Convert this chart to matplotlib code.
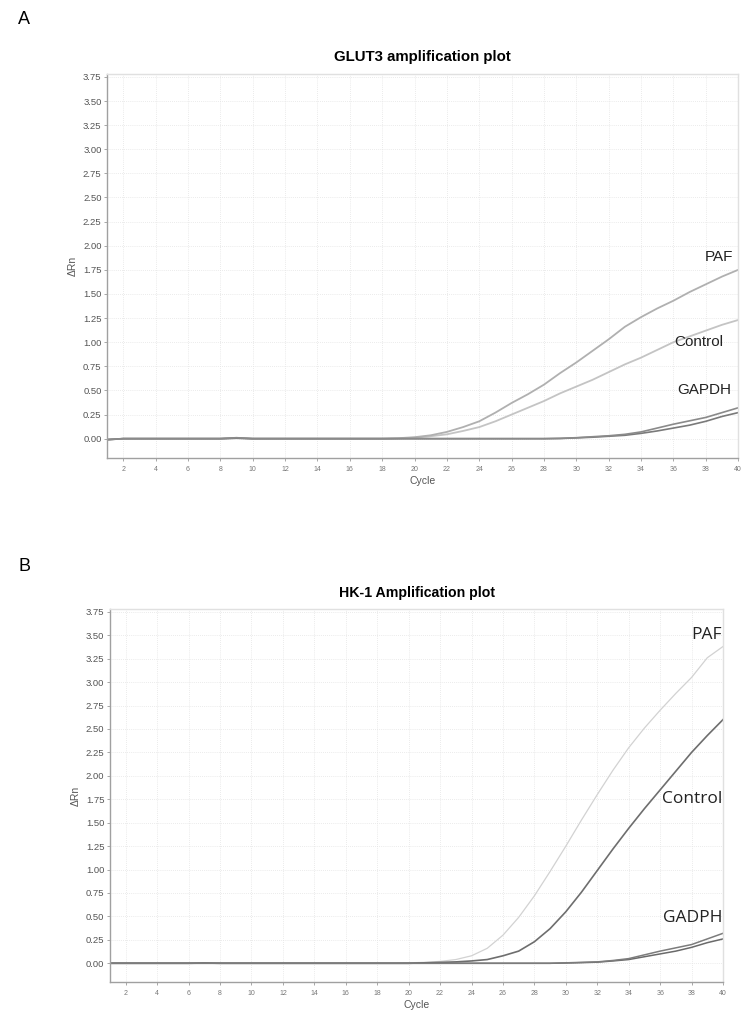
import matplotlib
matplotlib.use("Agg")
import matplotlib.pyplot as plt
import numpy as np

cycles = list(range(1, 41))

# Panel A (GLUT3)
glut3_paf = [-0.01, 0, 0, 0, 0, 0, 0, 0, 0.005, 0, 0, 0, 0, 0, 0, 0, 0, 0, 0.005, 0.015,
             0.035, 0.07, 0.12, 0.18, 0.27, 0.37, 0.46, 0.56, 0.68, 0.79,
             0.91, 1.03, 1.16, 1.26, 1.35, 1.43, 1.52, 1.60, 1.68, 1.75]
glut3_control = [-0.01, 0, 0, 0, 0, 0, 0, 0, 0.008, 0, 0, 0, 0, 0, 0, 0, 0, 0, 0.003, 0.01,
                 0.025, 0.045, 0.08, 0.12, 0.18, 0.25, 0.32, 0.39, 0.47, 0.54,
                 0.61, 0.69, 0.77, 0.84, 0.92, 1.00, 1.06, 1.12, 1.18, 1.23]
glut3_gapdh1 = [-0.01, 0, 0, 0, 0, 0, 0, 0, 0.01, 0, 0, 0, 0, 0, 0, 0, 0, 0, 0, 0,
                0, 0, 0, 0, 0, 0, 0, 0, 0.003, 0.01,
                0.02, 0.03, 0.045, 0.07, 0.11, 0.15, 0.185, 0.22, 0.27, 0.32]
glut3_gapdh2 = [-0.01, 0, 0, 0, 0, 0, 0, 0, 0.005, 0, 0, 0, 0, 0, 0, 0, 0, 0, 0, 0,
                0, 0, 0, 0, 0, 0, 0, 0, 0.002, 0.008,
                0.015, 0.025, 0.035, 0.055, 0.08, 0.11, 0.14, 0.18, 0.23, 0.27]

# Panel B (HK-1)
hk1_paf = [0, 0, 0, 0, 0, 0, 0.003, 0, 0, 0, 0, 0, 0, 0, 0, 0, 0, 0, 0, 0.005,
           0.01, 0.02, 0.04, 0.08, 0.16, 0.30, 0.49, 0.72, 0.98, 1.25,
           1.53, 1.80, 2.06, 2.30, 2.51, 2.70, 2.88, 3.05, 3.26, 3.38]
hk1_control = [0, 0, 0, 0, 0, 0, 0.003, 0, 0, 0, 0, 0, 0, 0, 0, 0, 0, 0, 0, 0,
               0.005, 0.01, 0.015, 0.025, 0.04, 0.08, 0.13, 0.23, 0.37, 0.55,
               0.76, 0.99, 1.22, 1.44, 1.65, 1.85, 2.05, 2.25, 2.43, 2.60]
hk1_gadph1 = [0, 0, 0, 0, 0, 0, 0, 0, 0, 0, 0, 0, 0, 0, 0, 0, 0, 0, 0, 0,
              0, 0, 0, 0, 0, 0, 0, 0, 0, 0.005,
              0.01, 0.015, 0.03, 0.05, 0.09, 0.13, 0.165, 0.20, 0.26, 0.32]
hk1_gadph2 = [0, 0, 0, 0, 0, 0, 0, 0, 0, 0, 0, 0, 0, 0, 0, 0, 0, 0, 0, 0,
              0, 0, 0, 0, 0, 0, 0, 0, 0, 0.003,
              0.007, 0.012, 0.025, 0.04, 0.07, 0.10, 0.13, 0.17, 0.22, 0.26]

xticks = list(range(2, 41, 2))
yticks = [0.0, 0.25, 0.5, 0.75, 1.0, 1.25, 1.5, 1.75, 2.0, 2.25, 2.5, 2.75, 3.0, 3.25, 3.5, 3.75]

fig = plt.figure(figsize=(7.54, 10.22), dpi=100)
plt.rcParams['font.family'] = ['Liberation Sans', 'DejaVu Sans']


def style_axes(ax):
    ax.set_xlim(1, 40)
    ax.set_ylim(-0.2, 3.78)
    ax.set_xticks(xticks)
    ax.set_yticks(yticks)
    ax.set_yticklabels([f"{v:.2f}" for v in yticks])
    ax.tick_params(axis='x', labelsize=5, colors='#999999', labelcolor='#777777', length=2, width=0.6, pad=4)
    ax.tick_params(axis='y', labelsize=6.8, colors='#999999', labelcolor='#555555', length=2, width=0.6, pad=2)
    ax.grid(True, color='#e4e4e4', linestyle=(0, (1, 1.5)), linewidth=0.6)
    for s in ['left', 'bottom']:
        ax.spines[s].set_color('#a0a0a0')
        ax.spines[s].set_linewidth(1.0)
    for s in ['top', 'right']:
        ax.spines[s].set_color('#e0e0e0')
        ax.spines[s].set_linewidth(1.0)
    ax.set_xlabel('Cycle', fontsize=7.5, color='#555555', labelpad=2)
    ax.set_ylabel('ΔRn', fontsize=7.5, color='#555555', labelpad=4)


# Panel A
axA = fig.add_axes([0.142, 0.5519, 0.837, 0.3757])
style_axes(axA)
axA.plot(cycles, glut3_control, color='#c4c4c4', lw=1.3)
axA.plot(cycles, glut3_paf, color='#b0b0b0', lw=1.3)
axA.plot(cycles, glut3_gapdh2, color='#7a7a7a', lw=1.2)
axA.plot(cycles, glut3_gapdh1, color='#8a8a8a', lw=1.2)
axA.set_title('GLUT3 amplification plot', fontsize=10.8, fontweight='bold', pad=9)
axA.text(39.7, 1.88, 'PAF', fontsize=11, ha='right', va='center', color='#222222')
axA.text(39.1, 1.00, 'Control', fontsize=11, ha='right', va='center', color='#222222')
axA.text(39.6, 0.50, 'GAPDH', fontsize=11, ha='right', va='center', color='#222222')

# Panel B
axB = fig.add_axes([0.1459, 0.0391, 0.813, 0.365])
style_axes(axB)
axB.plot(cycles, hk1_paf, color='#d2d2d2', lw=0.9)
axB.plot(cycles, hk1_control, color='#6e6e6e', lw=1.2)
axB.plot(cycles, hk1_gadph2, color='#6a6a6a', lw=1.1)
axB.plot(cycles, hk1_gadph1, color='#7c7c7c', lw=1.1)
axB.set_title('HK-1 Amplification plot', fontsize=10.2, fontweight='bold', pad=9)
axB.text(39.95, 3.50, 'PAF', fontsize=12.5, ha='right', va='center', color='#222222', family=['Open Sans', 'DejaVu Sans'])
axB.text(39.95, 1.75, 'Control', fontsize=12.5, ha='right', va='center', color='#222222', family=['Open Sans', 'DejaVu Sans'])
axB.text(39.95, 0.48, 'GADPH', fontsize=12.5, ha='right', va='center', color='#222222', family=['Open Sans', 'DejaVu Sans'])

fig.text(18 / 754, 1 - 20 / 1022, 'A', fontsize=13, ha='left', va='center')
fig.text(18 / 754, 1 - 566 / 1022, 'B', fontsize=13, ha='left', va='center')

fig.savefig('out.png', dpi=100)
